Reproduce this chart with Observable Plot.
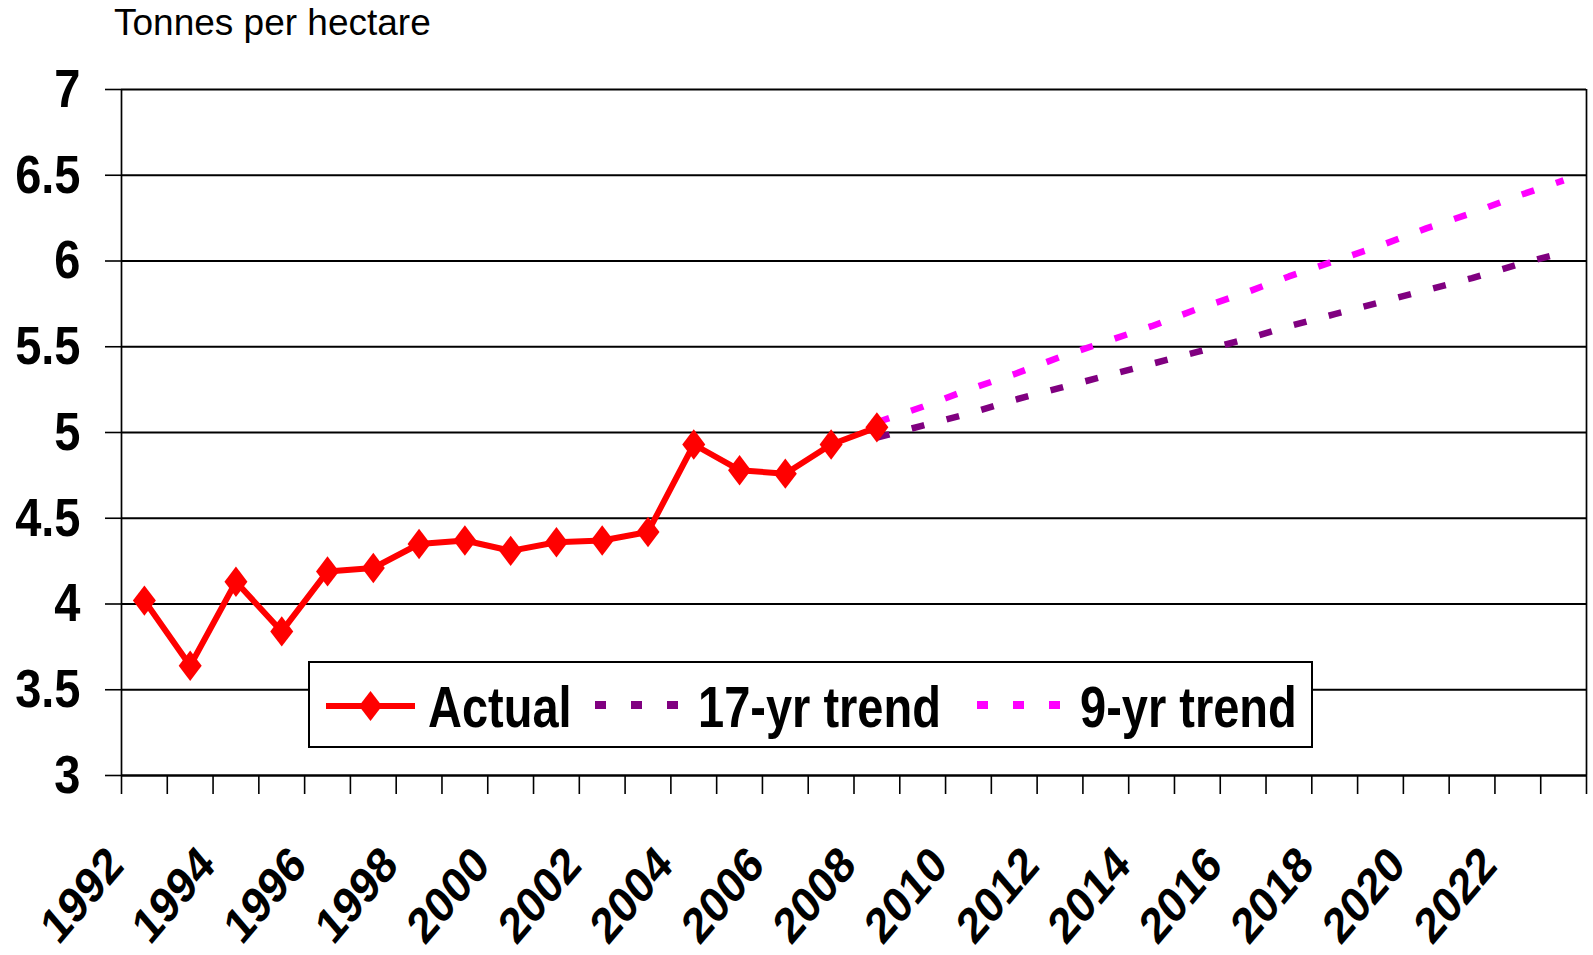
<!DOCTYPE html>
<html>
<head>
<meta charset="utf-8">
<script src="https://cdn.jsdelivr.net/npm/d3@7"></script>
<script src="https://cdn.jsdelivr.net/npm/@observablehq/plot@0.6"></script>
<style>
  html, body { margin: 0; padding: 0; background: #ffffff; }
  #wrap { position: relative; width: 1593px; height: 955px; overflow: hidden; font-family: "Liberation Sans", Arial, sans-serif; }
  #overlay { position: absolute; left: 0; top: 0; pointer-events: none; }
</style>
</head>
<body>
<div id="wrap"><div id="chart"></div><svg id="overlay" width="1593" height="955"></svg></div>
<script>
// ---------- data ----------
const years = [1992,1993,1994,1995,1996,1997,1998,1999,2000,2001,2002,2003,2004,2005,2006,2007,
               2008,2009,2010,2011,2012,2013,2014,2015,2016,2017,2018,2019,2020,2021,2022,2023];
const actualYears = [1992,1993,1994,1995,1996,1997,1998,1999,2000,2001,2002,2003,2004,2005,2006,2007,2008];
const actualValues = [4.02,3.64,4.13,3.84,4.19,4.21,4.35,4.37,4.31,4.36,4.37,4.42,4.93,4.78,4.76,4.93,5.03];
const trendYears = [2008,2009,2010,2011,2012,2013,2014,2015,2016,2017,2018,2019,2020,2021,2022,2023];
const trend17Values = [4.97,5.04,5.11,5.19,5.26,5.33,5.40,5.47,5.54,5.62,5.69,5.76,5.83,5.90,5.98,6.05];
const trend9Values  = [5.06,5.15,5.25,5.34,5.44,5.53,5.62,5.72,5.81,5.91,6.00,6.09,6.19,6.28,6.38,6.47];
const yTicks = [3,3.5,4,4.5,5,5.5,6,6.5,7];
const xLabelYears = ["1992","1994","1996","1998","2000","2002","2004","2006","2008","2010","2012","2014","2016","2018","2020","2022"];
const seriesNames = ["Actual","17-yr trend","9-yr trend"];
const seriesColors = ["#FF0000","#800080","#FF00FF"];
const yTitle = "Tonnes per hectare";

// ---------- derived tables ----------
const actual = actualYears.map((y, i) => ({year: y, value: actualValues[i]}));
const trend17 = trendYears.map((y, i) => ({year: y, value: trend17Values[i]}));
const trend9 = trendYears.map((y, i) => ({year: y, value: trend9Values[i]}));
const xMin = years[0] - 0.5, xMax = years[years.length - 1] + 0.5;
const boundaries = years.map(y => y - 0.5).concat([xMax]);
const yLabelStrings = yTicks.map(String);

// tall diamond symbol (Excel style marker)
const tallDiamond = {
  draw(ctx, size) {
    const s = Math.sqrt(size / Math.PI);
    ctx.moveTo(0, -1.32 * s);
    ctx.lineTo(s, 0);
    ctx.lineTo(0, 1.32 * s);
    ctx.lineTo(-s, 0);
    ctx.closePath();
  }
};

const FONT = "'Liberation Sans', Arial, sans-serif";

const chart = Plot.plot({
  width: 1593,
  height: 955,
  marginLeft: 121,
  marginRight: 7,
  marginTop: 89,
  marginBottom: 180,
  style: {fontFamily: FONT, background: "white", overflow: "visible", color: "black"},
  x: {domain: [xMin, xMax], axis: null},
  y: {domain: [3, 7], axis: null},
  marks: [
    Plot.ruleY(yTicks.slice(1), {stroke: "black", strokeWidth: 2}),
    Plot.axisY({ticks: yTicks, tickSize: 16, tickFormat: () => "", label: null, stroke: "black", strokeWidth: 1.6, strokeOpacity: 1}),
    Plot.axisX({ticks: boundaries, tickSize: 19, tickFormat: () => "", label: null, stroke: "black", strokeWidth: 1.6, strokeOpacity: 1}),
    Plot.ruleX([xMin, xMax], {stroke: "black", strokeWidth: 1.7}),
    Plot.ruleY([3], {stroke: "black", strokeWidth: 2.6}),
    Plot.text(yTicks, {y: d => d, text: d => String(d), frameAnchor: "left", textAnchor: "end", dx: -41,
      fontSize: 47, fontWeight: "bold", fill: "black"}),
    Plot.text(xLabelYears, {x: d => +d, text: d => d, frameAnchor: "bottom", lineAnchor: "bottom", textAnchor: "end",
      rotate: -45, dx: -19, dy: 92, fontSize: 42.5, fontWeight: "bold", fill: "black"}),
    Plot.line(trend17, {x: "year", y: "value", stroke: seriesColors[1], strokeWidth: 6.5,
      strokeDasharray: "13,23", strokeLinecap: "butt"}),
    Plot.line(trend9, {x: "year", y: "value", stroke: seriesColors[2], strokeWidth: 6.5,
      strokeDasharray: "13,23", strokeLinecap: "butt"}),
    Plot.line(actual, {x: "year", y: "value", stroke: seriesColors[0], strokeWidth: 6}),
    Plot.dot(actual, {x: "year", y: "value", symbol: tallDiamond, r: 11.5, fill: seriesColors[0], stroke: "none"})
  ]
});
document.getElementById("chart").appendChild(chart);

// Excel-like vertical stretch of the bold tick-label texts (found by their content)
function stretchText(node, s, rot) {
  const t = node.getAttribute("transform") || "";
  let x = 0, y = 0, r = rot;
  const m = t.match(/translate\(\s*([-\d.eE]+)[\s,]+([-\d.eE]+)\s*\)/);
  const mr = t.match(/rotate\(\s*([-\d.eE]+)(?:[\s,]+([-\d.eE]+)[\s,]+([-\d.eE]+))?\s*\)/);
  if (m) { x = +m[1]; y = +m[2]; }
  else if (mr && mr[2] !== undefined) { x = +mr[2]; y = +mr[3]; }
  else {
    x = parseFloat(node.getAttribute("x")) || 0;
    y = parseFloat(node.getAttribute("y")) || 0;
  }
  node.removeAttribute("x");
  if (!m) node.removeAttribute("y");
  node.setAttribute("transform", `translate(${x},${y}) scale(1,${s})` + (r ? ` rotate(${r})` : ""));
}
chart.querySelectorAll("text").forEach(node => {
  const txt = (node.textContent || "").trim();
  if (xLabelYears.includes(txt)) stretchText(node, 1.18, -45);
  else if (yLabelStrings.includes(txt)) stretchText(node, 1.16, 0);
});

// ---------- title and legend overlay ----------
const ov = d3.select("#overlay").style("font-family", FONT);
ov.append("text").attr("x", 114).attr("y", 35).attr("font-size", 37).attr("fill", "black").text(yTitle);

const lg = ov.append("g").attr("transform", "translate(309,662)");
lg.append("rect").attr("x", 0).attr("y", 0).attr("width", 1003).attr("height", 85)
  .attr("fill", "white").attr("stroke", "black").attr("stroke-width", 2);
const items = [
  {name: seriesNames[0], color: seriesColors[0], x0: 17, x1: 106, tx: 119, kind: "actual"},
  {name: seriesNames[1], color: seriesColors[1], x0: 286, x1: 369, tx: 389, kind: "dash"},
  {name: seriesNames[2], color: seriesColors[2], x0: 668, x1: 751, tx: 771, kind: "dash"}
];
items.forEach(it => {
  if (it.kind === "actual") {
    lg.append("line").attr("x1", it.x0).attr("x2", it.x1).attr("y1", 44).attr("y2", 44)
      .attr("stroke", it.color).attr("stroke-width", 6);
    const cx = (it.x0 + it.x1) / 2;
    lg.append("path").attr("d", `M${cx},${44 - 15}L${cx + 11.5},44L${cx},${44 + 15}L${cx - 11.5},44Z`).attr("fill", it.color);
  } else {
    lg.append("line").attr("x1", it.x0).attr("x2", it.x1).attr("y1", 43).attr("y2", 43)
      .attr("stroke", it.color).attr("stroke-width", 8).attr("stroke-dasharray", "11,25");
  }
  lg.append("text").attr("transform", `translate(${it.tx},65) scale(1,1.21)`)
    .attr("font-size", 47).attr("font-weight", "bold").attr("fill", "black").text(it.name);
});
</script>
</body>
</html>
